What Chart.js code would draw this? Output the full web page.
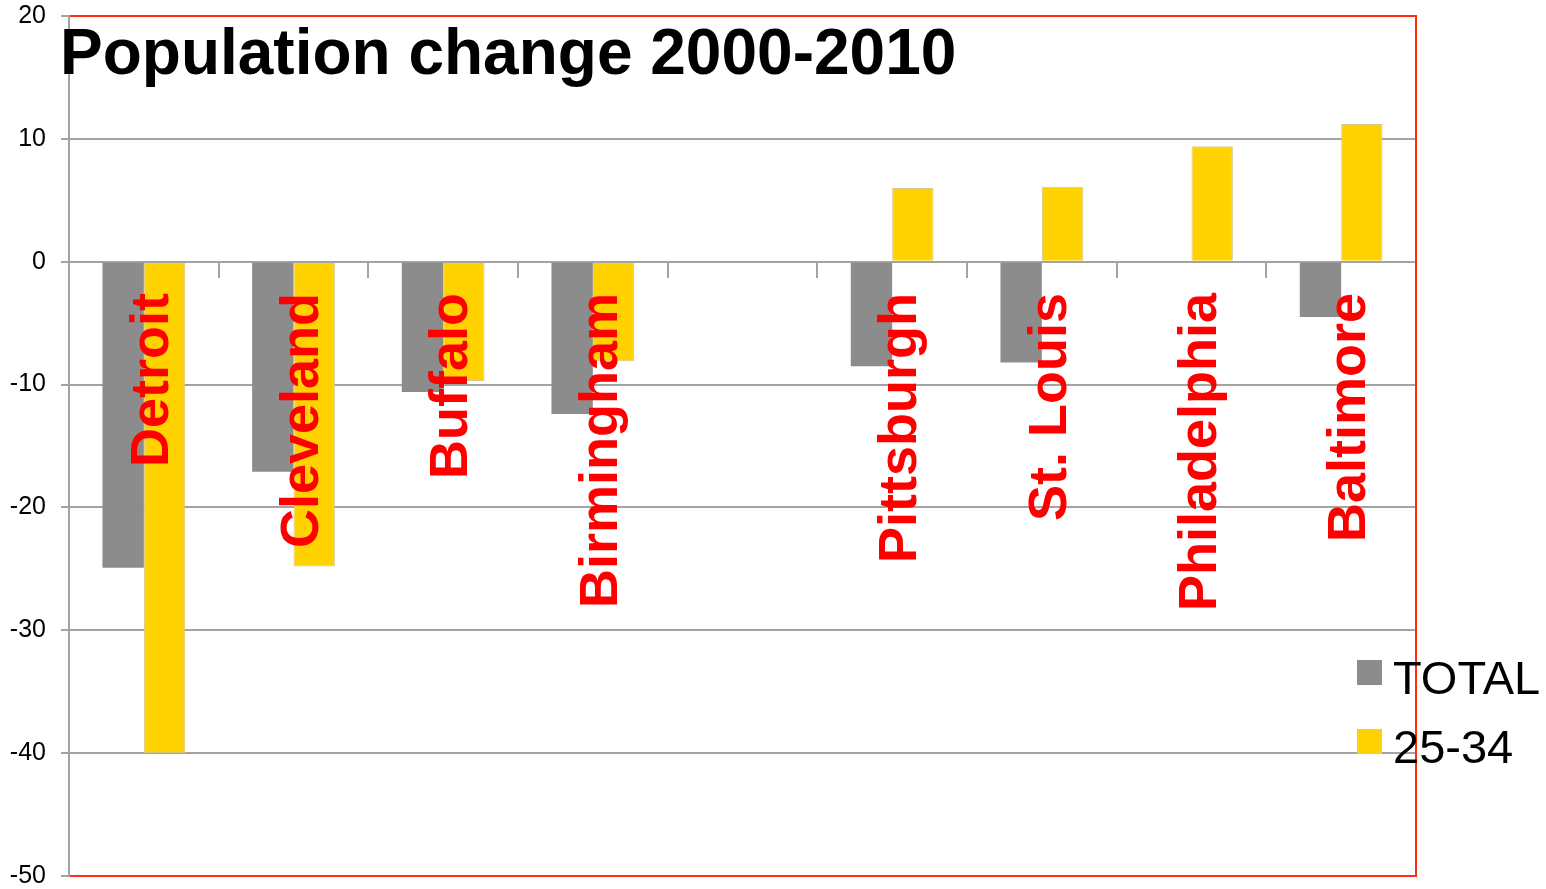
<!DOCTYPE html>
<html>
<head>
<meta charset="utf-8">
<script src="https://cdn.jsdelivr.net/npm/chart.js@4.4.1/dist/chart.umd.min.js"></script>
<style>
  html, body { margin: 0; padding: 0; background: #fff; }
  #wrap { width: 1546px; height: 889px; }
</style>
</head>
<body>
<div id="wrap"><canvas id="chart"></canvas></div>
<script>
// Data
const cities = ['Detroit', 'Cleveland', 'Buffalo', 'Birmingham', '', 'Pittsburgh', 'St. Louis', 'Philadelphia', 'Baltimore'];
const totalChange = [-24.9, -17.1, -10.6, -12.4, null, -8.5, -8.2, 0, -4.5];
const youngChange = [-40, -24.8, -9.7, -8.1, null, 6.0, 6.1, 9.4, 11.2];
const yTicks = [20, 10, 0, -10, -20, -30, -40, -50];

const GRID = '#A3A3A3';

// title, legend, red frame and the rotated city names
const overlayPlugin = {
    id: 'overlay',
    afterDatasetsDraw(chart) {
        const ctx = chart.ctx;
        const area = chart.chartArea;
        const x = chart.scales.x;

        // city names, rotated, written inside the plot
        ctx.save();
        ctx.fillStyle = '#FF0000';
        ctx.font = 'bold 54px "Liberation Sans", Arial, sans-serif';
        ctx.textAlign = 'right';
        ctx.textBaseline = 'alphabetic';
        cities.forEach(function (name, i) {
            if (!name) return;
            const cx = x.getPixelForValue(i);
            ctx.save();
            ctx.translate(cx + 24, 293);
            ctx.rotate(-Math.PI / 2);
            ctx.fillText(name, 0, 0);
            ctx.restore();
        });
        ctx.restore();

        // red frame on top, right and bottom
        ctx.save();
        ctx.strokeStyle = '#FF2D10';
        ctx.lineWidth = 2;
        ctx.beginPath();
        ctx.moveTo(area.left + 1, area.top);
        ctx.lineTo(area.right, area.top);
        ctx.lineTo(area.right, area.bottom);
        ctx.lineTo(area.left + 1, area.bottom);
        ctx.stroke();
        ctx.restore();
    },
    afterDraw(chart) {
        const ctx = chart.ctx;

        // title
        ctx.save();
        ctx.fillStyle = '#000';
        ctx.font = 'bold 64px "Liberation Sans", Arial, sans-serif';
        ctx.textAlign = 'left';
        ctx.textBaseline = 'alphabetic';
        ctx.fillText('Population change 2000-2010', 60, 74);
        ctx.restore();

        // legend
        ctx.save();
        ctx.font = '47px "Liberation Sans", Arial, sans-serif';
        ctx.textAlign = 'left';
        ctx.textBaseline = 'alphabetic';
        chart.data.datasets.forEach(function (ds, i) {
            const top = 660 + i * 69;
            ctx.fillStyle = ds.backgroundColor;
            ctx.fillRect(1357, top, 25, 25);
            ctx.fillStyle = '#000';
            ctx.fillText(ds.label, 1393, top + 34);
        });
        ctx.restore();
    }
};

function noPadding(scale) {
    scale.paddingTop = 0;
    scale.paddingBottom = 0;
    scale.paddingLeft = 0;
    scale.paddingRight = 0;
}

const ctx = document.getElementById('chart').getContext('2d');
new Chart(ctx, {
    type: 'bar',
    data: {
        labels: cities,
        datasets: [{
            label: 'TOTAL',
            data: totalChange,
            backgroundColor: '#8C8C8C',
            borderColor: '#8C8C8C',
            borderWidth: 0
        }, {
            label: '25-34',
            data: youngChange,
            backgroundColor: '#FFD200',
            borderColor: '#D4C890',
            borderWidth: 1
        }]
    },
    options: {
        responsive: true,
        maintainAspectRatio: false,
        animation: false,
        layout: {
            padding: { left: 0, top: 16, right: 130, bottom: 13 }
        },
        plugins: {
            legend: { display: false },
            title: { display: false },
            tooltip: { enabled: false }
        },
        datasets: {
            bar: {
                categoryPercentage: 0.553,
                barPercentage: 1.0
            }
        },
        scales: {
            x: {
                position: { y: 0 },
                offset: true,
                afterFit: noPadding,
                ticks: { display: false },
                grid: {
                    offset: true,
                    drawOnChartArea: false,
                    drawTicks: true,
                    tickLength: 15,
                    color: GRID,
                    lineWidth: 2
                },
                border: { display: true, color: GRID, width: 2 }
            },
            y: {
                min: -50,
                max: 20,
                afterFit: function (scale) {
                    scale.width = 69;
                    noPadding(scale);
                },
                afterBuildTicks: function (scale) {
                    scale.ticks = yTicks.map(function (v) { return { value: v }; });
                },
                ticks: {
                    color: '#000',
                    padding: 15,
                    font: { family: '"Liberation Sans", Arial, sans-serif', size: 25 }
                },
                grid: {
                    color: GRID,
                    lineWidth: 2,
                    tickLength: 8
                },
                border: { display: true, color: GRID, width: 2 }
            }
        }
    },
    plugins: [overlayPlugin]
});
</script>
</body>
</html>
